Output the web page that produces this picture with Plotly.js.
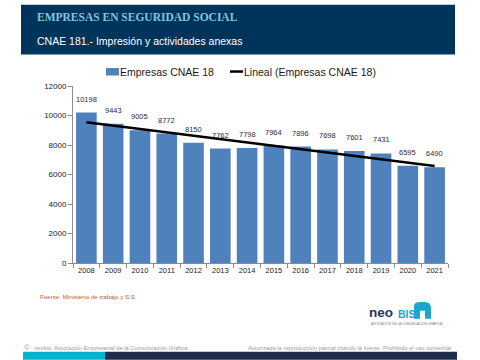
<!DOCTYPE html>
<html>
<head>
<meta charset="utf-8">
<script src="https://cdn.plot.ly/plotly-3.0.1.min.js"></script>
<style>
html,body{margin:0;padding:0;background:#fff;}
#chart{width:480px;height:360px;}
</style>
</head>
<body>
<div id="chart"></div>
<script>
// ---- data ----
var years = ["2008","2009","2010","2011","2012","2013","2014","2015","2016","2017","2018","2019","2020","2021"];
var empresas = [10198, 9443, 9005, 8772, 8150, 7762, 7798, 7964, 7896, 7698, 7601, 7431, 6595, 6490];
var yTicks = [0, 2000, 4000, 6000, 8000, 10000, 12000];
var seriesName = "Empresas CNAE 18";
var trendName = "Lineal (Empresas CNAE 18)";
var title1 = "EMPRESAS EN SEGURIDAD SOCIAL";
var title2 = "CNAE 181.- Impresión y actividades anexas";
var sourceText = "Fuente: Ministerio de trabajo y S.S.";
var footLeft = "neobis, Asociación Empresarial de la Comunicación Gráfica";
var footRight = "Autorizada la reproducción parcial citando la fuente. Prohibido el uso comercial";

// ---- linear trend (least squares, as the spreadsheet trendline) ----
var n = empresas.length, sx = 0, sy = 0, sxy = 0, sxx = 0;
for (var i = 0; i < n; i++) { sx += i; sy += empresas[i]; sxy += i * empresas[i]; sxx += i * i; }
var slope = (n * sxy - sx * sy) / (n * sxx - sx * sx);
var icpt = (sy - slope * sx) / n;
var trend = empresas.map(function (_, i) { return icpt + slope * i; });

// ---- pixel helpers for decorations (plot area 73..448 x, 85.5..263 y) ----
var L = 73, R = 448, T = 85.5, B = 263;
function px(x) { return (x - L) / (R - L); }
function py(y) { return (B - y) / (B - T); }

var FONT = "Liberation Sans, Arial, sans-serif";

var traces = [
  { type: "bar", x: years, y: empresas, name: seriesName,
    marker: { color: "#4F81BD" }, showlegend: false, hoverinfo: "x+y" },
  { type: "scatter", mode: "lines", x: years, y: trend, name: trendName,
    line: { color: "#000000", width: 2.5 }, showlegend: false, hoverinfo: "skip" }
];

var annotations = years.map(function (yr, i) {
  return { x: i, y: empresas[i], xref: "x", yref: "y", text: String(empresas[i]),
    showarrow: false, yanchor: "bottom", yshift: 7,
    font: { family: FONT, size: 7.5, color: "#2b2b3b" } };
});

function txt(x, y, text, size, color, extra) {
  var a = { x: px(x), y: py(y), xref: "paper", yref: "paper", text: text, showarrow: false,
    xanchor: "left", yanchor: "middle", font: { family: FONT, size: size, color: color } };
  if (extra) for (var k in extra) a[k] = extra[k];
  return a;
}
function txtFont(a, fam) { a.font.family = fam; return a; }

annotations.push(txtFont(txt(35, 16, "<b>" + title1 + "</b>", 11.5, "#7FC6DC"), "Liberation Serif, Times New Roman, serif"));
annotations.push(txt(35, 40, title2, 10.5, "#FFFFFF"));
annotations.push(txt(118, 71, seriesName, 10.5, "#1a1a1a"));
annotations.push(txt(242, 71, trendName, 10.5, "#1a1a1a"));
annotations.push(txt(38, 297, sourceText, 6.2, "#B5612A"));
annotations.push(txt(32, 348, footLeft, 5.8, "#9a9a9a"));
annotations.push(txt(453, 348, footRight, 5.8, "#9a9a9a", { xanchor: "right" }));
annotations.push(txt(22, 348, "©", 8, "#9a9a9a"));
annotations.push(txt(367, 313, "<b>neo</b>", 13.5, "#223A5E"));
annotations.push(txt(396, 314, "<b>BIS</b>", 10.5, "#1BA7C9"));
annotations.push(txt(369, 324, "ASOCIACIÓN DE LA COMUNICACIÓN GRÁFICA", 3.2, "#6a7a90"));

function rect(x0, y0, x1, y1, color) {
  return { type: "rect", xref: "paper", yref: "paper", x0: px(x0), x1: px(x1), y0: py(y1), y1: py(y0),
    fillcolor: color, line: { width: 0 }, layer: "below" };
}
var shapes = [
  rect(21, 4, 455, 54, "#00345A"),
  rect(106, 67.5, 119, 75, "#4F81BD"),
  { type: "line", xref: "paper", yref: "paper", x0: px(230), x1: px(243), y0: py(71), y1: py(71),
    line: { color: "#000", width: 2.5 } },
  rect(23, 352, 105, 360, "#00B4CD"),
  rect(105, 352, 457, 360, "#1F2D4D"),
  // logo icon
  { type: "path", xref: "paper", yref: "paper",
    path: "M " + px(414) + " " + py(319) + " L " + px(414) + " " + py(306) +
          " Q " + px(414) + " " + py(302) + " " + px(420) + " " + py(302) +
          " L " + px(425) + " " + py(302) +
          " Q " + px(431) + " " + py(302) + " " + px(431) + " " + py(309) +
          " L " + px(431) + " " + py(319) + " L " + px(425) + " " + py(319) +
          " L " + px(425) + " " + py(311) + " L " + px(420) + " " + py(311) +
          " L " + px(420) + " " + py(319) + " Z",
    fillcolor: "#1BA7C9", line: { width: 0 } }
];

var layout = {
  width: 480, height: 360,
  margin: { l: L, r: 480 - R, t: T, b: 360 - B, pad: 0 },
  paper_bgcolor: "#FFFFFF", plot_bgcolor: "#FFFFFF",
  bargap: 0.23,
  font: { family: FONT, size: 8, color: "#1a1a1a" },
  xaxis: { type: "category", range: [-0.5, years.length - 0.5], showline: true, linecolor: "#8c8c8c", linewidth: 1,
    ticks: "outside", ticklen: 4, tickcolor: "#8c8c8c", tickson: "boundaries",
    showgrid: false, zeroline: false, tickangle: 0, tickfont: { family: FONT, size: 7.5, color: "#1a1a1a" },
    fixedrange: true },
  yaxis: { range: [0, 12000], tickvals: yTicks, ticktext: yTicks.map(String),
    showline: true, linecolor: "#8c8c8c", linewidth: 1, ticks: "outside", ticklen: 4,
    tickcolor: "#8c8c8c", showgrid: false, zeroline: false,
    tickfont: { family: FONT, size: 8, color: "#1a1a1a" }, fixedrange: true },
  annotations: annotations,
  shapes: shapes,
  showlegend: false
};

Plotly.newPlot("chart", traces, layout, { displayModeBar: false, staticPlot: true });
</script>
</body>
</html>
